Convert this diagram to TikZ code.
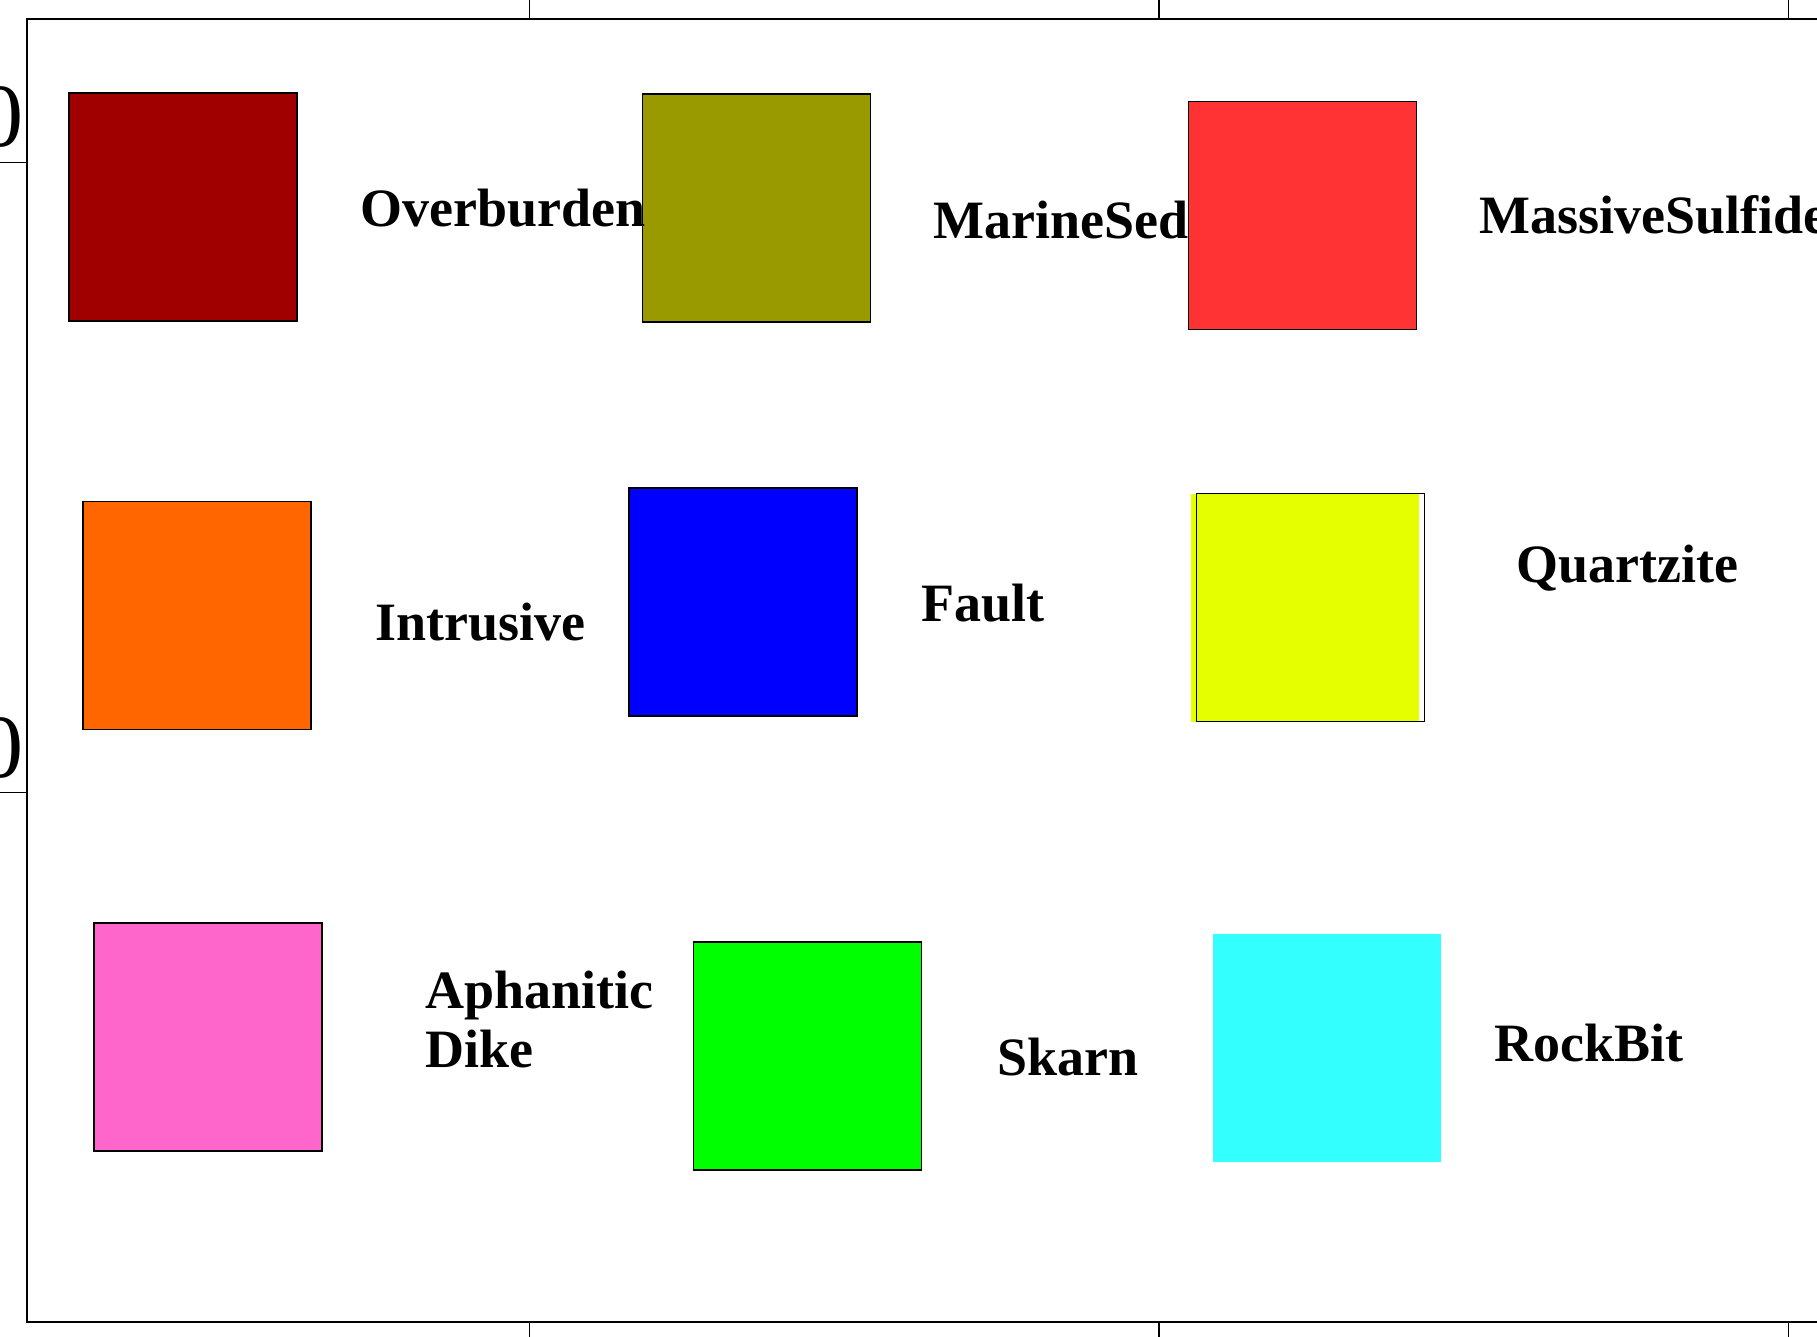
\documentclass[tikz,border=0pt]{standalone}
\usepackage{fontspec}
\setmainfont{Liberation Serif}
\usetikzlibrary{positioning}

\definecolor{overcol}{RGB}{160,0,0}
\definecolor{marinecol}{RGB}{153,153,0}
\definecolor{sulfcol}{RGB}{255,51,51}
\definecolor{intrcol}{RGB}{255,102,0}
\definecolor{faultcol}{RGB}{0,0,255}
\definecolor{quartzcol}{RGB}{229,255,0}
\definecolor{dikecol}{RGB}{255,102,204}
\definecolor{skarncol}{RGB}{0,255,0}
\definecolor{bitcol}{RGB}{51,255,255}

\begin{document}
\begin{tikzpicture}[x=0.5pt, y=-0.5pt,
	swatch/.style={draw, line width=0.7pt, minimum size=114pt, inner sep=0pt},
	bare/.style={minimum size=114pt, inner sep=0pt},
	lbl/.style={anchor=base west, inner sep=0pt, font=\fontsize{27}{32}\selectfont\bfseries},
	tick/.style={anchor=base east, inner sep=0pt, font=\fontsize{45}{50}\selectfont}]

	\useasboundingbox (0,0) rectangle (1817,1337);
	\fill[white] (0,0) rectangle (1817,1337);

	\draw[line width=1pt] (1817,19.5) -- (27,19.5) -- (27,1322) -- (1817,1322);
	\foreach \tx in {529.6, 1158.8, 1788.7} {
		\draw[line width=0.7pt] (\tx,0) -- (\tx,19.5);
		\draw[line width=0.7pt] (\tx,1322) -- (\tx,1337);
	}
	\foreach \ty in {162.7, 792.7}
		\draw[line width=0.7pt] (0,\ty) -- (27,\ty);

	\node[tick] (ytop) at (24,147) {0};
	\node[tick] (ymid) at (24,777) {0};

	\node[swatch, fill=overcol] (over) at (183,207) {};
	\node[swatch, fill=marinecol] (marine) at (756.5,208) {};
	\node[swatch, fill=sulfcol] (sulf) at (1302.5,215.5) {};
	\node[swatch, fill=intrcol] (intr) at (197,615.5) {};
	\node[swatch, fill=faultcol] (fault) at (743,602) {};
	\node[bare, fill=quartzcol] (qfill) at (1305,607.5) {};
	\node[swatch] (quartz) at (1310.5,607.5) {};
	\node[swatch, fill=dikecol] (dike) at (208,1037) {};
	\node[swatch, fill=skarncol] (skarn) at (807.5,1056) {};
	\node[bare, fill=bitcol] (bit) at (1326.5,1048) {};

	\node[lbl] (overlbl) at (360,227) {Overburden};
	\node[lbl] (marinelbl) at (933,239) {MarineSed};
	\node[lbl] (sulflbl) at (1479,234) {MassiveSulfide};
	\node[lbl] (intrlbl) at (375,640) {Intrusive};
	\node[lbl] (faultlbl) at (921,621) {Fault};
	\node[lbl] (quartzlbl) at (1516,582) {Quartzite};
	\node[lbl] (dikelbl1) at (425,1008) {Aphanitic};
	\node[lbl] (dikelbl2) at (425,1067) {Dike};
	\node[lbl] (skarnlbl) at (997,1075) {Skarn};
	\node[lbl] (bitlbl) at (1494,1061) {RockBit};

\end{tikzpicture}
\end{document}
